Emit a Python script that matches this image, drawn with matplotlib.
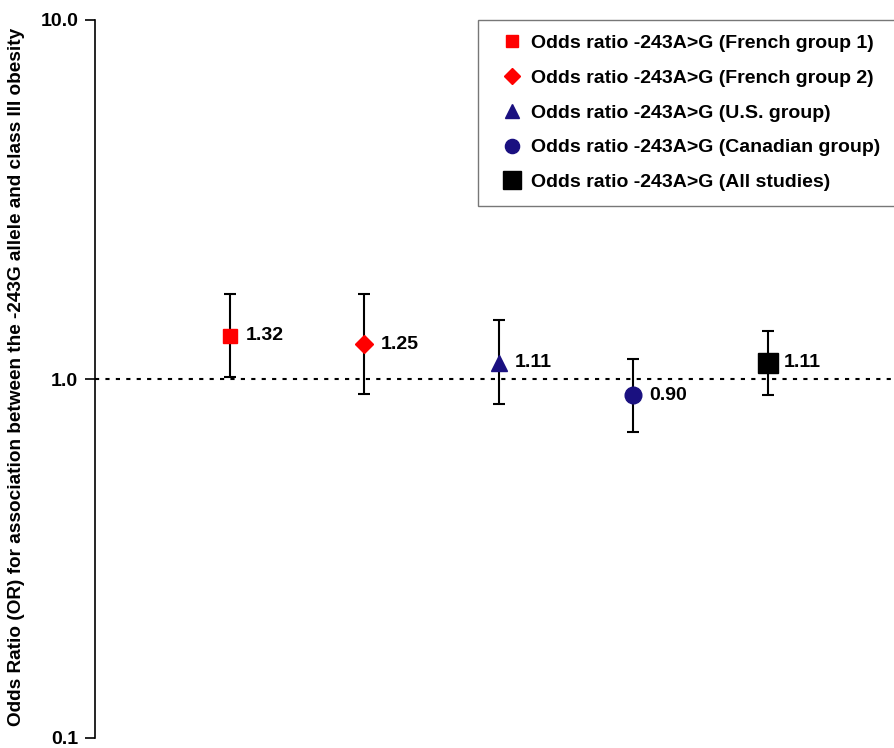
import numpy as np
from matplotlib import pyplot as plt

plt.rcParams['font.family'] = ['Liberation Sans', 'DejaVu Sans']
plt.rcParams['font.weight'] = 'bold'

# ---------------- data ----------------
groups = ['French group 1', 'French group 2', 'U.S. group', 'Canadian group', 'All studies']
odds = [1.32, 1.25, 1.11, 0.90, 1.11]
ci_low = [1.01, 0.91, 0.85, 0.71, 0.90]
ci_high = [1.73, 1.72, 1.46, 1.14, 1.36]
value_labels = ['1.32', '1.25', '1.11', '0.90', '1.11']

markers = ['s', 'D', '^', 'o', 's']
colors = ['#ff0000', '#ff0000', '#1a1080', '#1a1080', '#000000']
msizes = [9.5, 9, 12, 12, 15]

# ---------------- plot ----------------
fig = plt.figure(figsize=(8.94, 7.48), dpi=100)
ax = fig.add_axes([95 / 894, 10 / 748, 1 - 95 / 894, 718 / 748])

xs = np.arange(1, len(groups) + 1)
ax.axhline(1.0, color='black', linestyle=(0, (2, 3)), linewidth=1.5, zorder=1)

for i, x in enumerate(xs):
    ax.errorbar(x, odds[i], yerr=[[odds[i] - ci_low[i]], [ci_high[i] - odds[i]]],
                fmt='none', ecolor='black', elinewidth=1.5, capsize=4.5, capthick=1.5, zorder=2)
    ax.plot(x, odds[i], marker=markers[i], color=colors[i], markersize=msizes[i],
            linestyle='none', zorder=3, label='Odds ratio -243A>G (' + groups[i] + ')')
    ax.annotate(value_labels[i], (x, odds[i]), xytext=(12, 0), textcoords='offset points',
                ha='left', va='center', fontsize=14, fontweight='bold')

ax.set_yscale('log')
ax.set_ylim(0.1, 10)
ax.set_xlim(0, 5.94)
ax.set_yticks([0.1, 1.0, 10.0])
ax.set_yticklabels(['0.1', '1.0', '10.0'], fontsize=14, fontweight='bold')
ax.yaxis.set_minor_locator(plt.NullLocator())
ax.set_xticks([])
ax.tick_params(axis='y', direction='out', length=7, width=1.2, pad=5)
for s in ['top', 'right', 'bottom']:
    ax.spines[s].set_visible(False)
ax.spines['left'].set_linewidth(1.2)

fig.text(17 / 894, 1 - 377 / 748,
         'Odds Ratio (OR) for association between the -243G allele and class III obesity',
         rotation=90, ha='center', va='center', fontsize=13.7, fontweight='bold')

leg = ax.legend(loc='upper left', bbox_to_anchor=(478 / 894, 1 - 20 / 748),
                bbox_transform=fig.transFigure, fontsize=14, frameon=True, fancybox=False,
                handlelength=2.0, handletextpad=0.0, labelspacing=0.88, borderpad=0.75,
                borderaxespad=0, markerscale=0.85)
leg.get_frame().set_edgecolor('#555555')
leg.get_frame().set_linewidth(1.0)
for t in leg.get_texts():
    t.set_fontweight('bold')

plt.savefig('out.png', dpi=100)
